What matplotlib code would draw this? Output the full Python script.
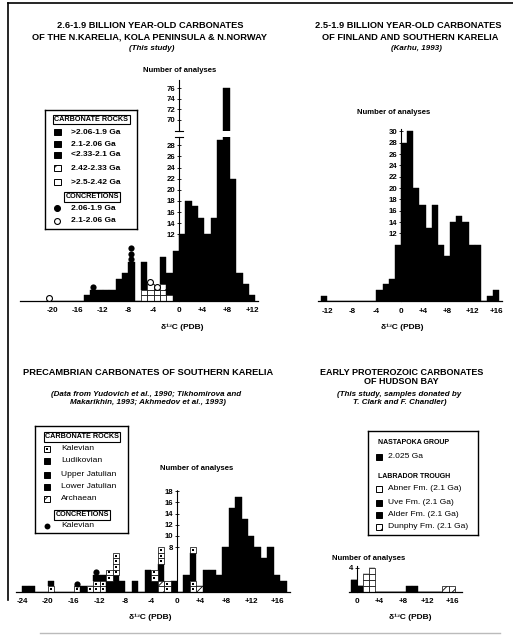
import matplotlib
matplotlib.use("Agg")
import matplotlib.pyplot as plt
from matplotlib.lines import Line2D
from matplotlib.patches import Rectangle
from matplotlib.transforms import ScaledTranslation
import numpy as np

plt.rcParams["font.family"] = ["Liberation Sans", "DejaVu Sans"]
plt.rcParams["font.weight"] = "bold"
plt.rcParams["hatch.linewidth"] = 0.6

# ---------------- data (bins are 1 per mil wide, given by left edge) ----------------
# panel 1 : N.Karelia, Kola Peninsula & N.Norway
p1_bins  = list(range(-21, 12))
p1_white = [0,0,0,0,0,0,0,0,0,0,0,0,0,0,0,2,3,2,2,1,0,0,0,0,0,0,0,0,0,0,0,0,0]
p1_hatch = [0,0,0,0,0,0,0,0,0,0,0,0,0,0,0,0,0,0,1,0,0,0,0,0,0,0,0,0,0,0,0,0,0]
p1_black = [0,0,0,0,0,0,1,2,2,2,2,4,5,7,0,5,0,0,5,4,9,12,18,17,15,12,15,29,76,22,5,3,1]
p1_dot   = [0,0,0,0,0,0,0,1,0,0,0,0,0,3,0,0,0,0,0,0,0,0,0,0,0,0,0,0,0,0,0,0,0]
p1_ring  = [1,0,0,0,0,0,0,0,0,0,0,0,0,0,0,0,1,1,0,0,0,0,0,0,0,0,0,0,0,0,0,0,0]

# panel 2 : Finland and southern Karelia (Karhu, 1993)
p2_bins  = list(range(-13, 16))
p2_black = [1,0,0,0,0,0,0,0,0,2,3,4,10,28,30,20,17,13,17,10,8,14,15,14,10,10,0,1,2]

# panel 3 : southern Karelia
p3_bins     = list(range(-24, 17))
p3_kal_low  = [0,0,0,0,1,0,0,0,1,0,1,2,2,0,0,0,0,0,0,0,0,0,0,0,0,0,2,0,0,0,0,0,0,0,0,0,0,0,0,0,0]
p3_arch     = [0,0,0,0,0,0,0,0,0,0,0,0,0,0,0,0,0,0,0,0,0,2,0,0,0,0,0,1,0,0,0,0,0,0,0,0,0,0,0,0,0]
p3_black    = [1,1,0,0,1,0,0,0,0,1,0,1,1,2,3,2,0,2,0,4,2,3,0,2,0,3,5,0,4,4,3,8,15,17,13,10,8,6,8,3,2]
p3_kal_high = [0,0,0,0,0,0,0,0,0,0,0,0,0,2,4,0,0,0,0,0,2,3,2,0,0,0,1,0,0,0,0,0,0,0,0,0,0,0,0,0,0]
p3_dot      = [0,0,0,0,0,0,0,0,1,0,0,1,0,0,0,0,0,0,0,0,0,0,0,0,0,0,0,0,0,0,0,0,0,0,0,0,0,0,0,0,0]

# panel 4 : Hudson Bay
p4_bins   = list(range(-1, 16))
p4_nast   = [2,1,0,0,0,0,0,0,0,0,0,0,0,0,0,0,0]
p4_abner  = [0,0,3,4,0,0,0,0,0,0,0,0,0,0,0,0,0]
p4_uvealder = [0,0,0,0,0,0,0,0,0,1,1,0,0,0,0,0,0]
p4_dunphy = [0,0,0,0,0,0,0,0,0,0,0,0,0,0,0,1,1]

xt_a = [-20, -16, -12, -8, -4, 0, 4, 8, 12]
xt_b = [-12, -8, -4, 0, 4, 8, 12, 16]
xt_c = [-24, -20, -16, -12, -8, -4, 0, 4, 8, 12, 16]
xt_d = [0, 4, 8, 12, 16]

W, H = 513, 637
fig = plt.figure(figsize=(W / 100, H / 100), dpi=100)


def box(x0, y0, x1, y1):
    return fig.add_axes([x0 / W, 1 - y1 / H, (x1 - x0) / W, (y1 - y0) / H])


def put(x, y, s, size=6.7, weight="bold", style="normal", ha="center", **kw):
    fig.text(x / W, 1 - y / H, s, fontsize=size, fontweight=weight,
             fontstyle=style, ha=ha, va="center", **kw)


def lab(v):
    return "+%d" % v if v > 0 else "%d" % v


def stack(ax, bins, layers):
    x = np.asarray(bins, float)
    base = np.zeros(len(x))
    for counts, kind in layers:
        c = np.asarray(counts, float)
        if kind == "black":
            ax.bar(x, c, width=1, bottom=base, align="edge", color="black",
                   edgecolor="black", lw=0.3)
        else:
            for k in range(int(c.max())):
                m = c > k
                xs, bs = x[m], base[m] + k
                if kind in ("white", "kal"):
                    ax.bar(xs, 1, width=1, bottom=bs, align="edge",
                           facecolor="white", edgecolor="black", lw=0.5)
                    if kind == "kal":
                        ax.scatter(xs + 0.5, bs + 0.5, s=1.5, marker="s",
                                   color="black", lw=0, zorder=3)
                elif kind == "hatch":
                    ax.bar(xs, 1, width=1, bottom=bs, align="edge",
                           facecolor="white", edgecolor="black", lw=0.5,
                           hatch="///")
                elif kind == "dot":
                    ax.scatter(xs + 0.5, bs + 0.5, s=20, color="black", lw=0,
                               zorder=3)
                elif kind == "ring":
                    ax.scatter(xs + 0.5, bs + 0.5, s=18, facecolor="white",
                               edgecolor="black", lw=0.8, zorder=3)
        base = base + c


def style(ax, xlim, ylim, yticks, xticks=None, dotted=False, bottom=True):
    ax.set_xlim(xlim)
    ax.set_ylim(ylim)
    ax.patch.set_alpha(0)
    for s in ("top", "right"):
        ax.spines[s].set_visible(False)
    ax.spines["left"].set_position(("data", 0))
    ax.spines["left"].set_linewidth(0.8)
    if dotted:
        ax.spines["left"].set_linestyle((0, (1.5, 1)))
    ax.spines["bottom"].set_linewidth(0.9)
    ax.spines["bottom"].set_visible(bottom)
    ax.set_yticks(yticks)
    ax.set_yticklabels([str(v) for v in yticks])
    ax.tick_params(axis="y", direction="inout", length=2.5, width=0.6, pad=1.5,
                   labelsize=5.6)
    if xticks is None:
        ax.set_xticks([])
    else:
        ax.set_xticks(xticks)
        ax.set_xticklabels([lab(v) for v in xticks])
        ax.tick_params(axis="x", length=0, pad=4.5, labelsize=5.8)
        for t in ax.get_xticklabels():
            if t.get_text().startswith("+"):
                t.set_transform(t.get_transform() +
                                ScaledTranslation(-2.5 / 100, 0, fig.dpi_scale_trans))


# ---------------- panel 1 (broken axis) ----------------
a1 = box(179 - 25 * 6.35, 137, 179 + 12.5 * 6.35, 301)
stack(a1, p1_bins, [(p1_white, "white"), (p1_hatch, "hatch"), (p1_black, "black"),
                    (p1_dot, "dot"), (p1_ring, "ring")])
style(a1, (-25, 12.5), (0, 29.5), list(range(12, 29, 2)), xt_a)
a1.plot([-0.7, 0.7], [29.5, 29.5], color="black", lw=0.8, clip_on=False)

a1u = box(179 - 25 * 6.35, 80.4, 179 + 12.5 * 6.35, 131)
stack(a1u, p1_bins, [(p1_white, "white"), (p1_hatch, "hatch"), (p1_black, "black")])
style(a1u, (-25, 12.5), (67.9, 77.5), [70, 72, 74, 76], bottom=False)
a1u.plot([-0.7, 0.7], [67.9, 67.9], color="black", lw=0.8, clip_on=False)

put(150, 26, "2.6-1.9 BILLION YEAR-OLD CARBONATES")
put(150, 37, "OF THE N.KARELIA, KOLA PENINSULA & N.NORWAY")
put(152, 49, "(This study)", size=5.8, style="italic")
put(180, 71, "Number of analyses", size=5.6)
put(182, 327, "δ¹³C (PDB)", size=6.0)

# legend 1
l1 = box(45, 110, 137, 229)
l1.set_xlim(45, 137)
l1.set_ylim(229, 110)
l1.set_xticks([])
l1.set_yticks([])
for s in l1.spines.values():
    s.set_linewidth(1.0)
l1.text(91.5, 119.5, "CARBONATE ROCKS", fontsize=5.2, ha="center", va="center",
        bbox=dict(boxstyle="square,pad=0.15", fc="white", ec="black", lw=0.8))
l1.text(92, 197, "CONCRETIONS", fontsize=5.2, ha="center", va="center",
        bbox=dict(boxstyle="square,pad=0.15", fc="white", ec="black", lw=0.8))
rows1 = [(132, ">2.06-1.9 Ga", "black"), (144, "2.1-2.06 Ga", "black"),
         (155, "<2.33-2.1 Ga", "black"), (168, "2.42-2.33 Ga", "hatch"),
         (182, ">2.5-2.42 Ga", "white"), (208, "2.06-1.9 Ga", "dot"),
         (221, "2.1-2.06 Ga", "ring")]
for y, t, k in rows1:
    if k in ("black", "white", "hatch"):
        l1.add_patch(Rectangle((54, y - 3), 6.5, 6, fc="black" if k == "black" else "white",
                               ec="black", lw=0.7, hatch="///" if k == "hatch" else None))
    else:
        l1.scatter([57], [y], s=18, facecolor="black" if k == "dot" else "white",
                   edgecolor="black", lw=0.8)
    l1.text(71, y, t, fontsize=6.0, va="center", ha="left")

# ---------------- panel 2 ----------------
a2 = box(401 - 13.5 * 6.14, 301.5 - 30.5 * 5.67, 401 + 16.5 * 6.14, 301.5)
stack(a2, p2_bins, [(p2_black, "black")])
style(a2, (-13.5, 16.5), (0, 30.5), list(range(12, 31, 2)), xt_b)
put(408, 26, "2.5-1.9 BILLION YEAR-OLD CARBONATES")
put(410, 37, "OF FINLAND AND SOUTHERN KARELIA")
put(416, 49, "(Karhu, 1993)", size=5.8, style="italic")
put(394, 113, "Number of analyses", size=5.6)
put(402, 327, "δ¹³C (PDB)", size=6.0)

# ---------------- panel 3 ----------------
a3 = box(177 - 25 * 6.45, 592 - 18.3 * 5.6, 177 + 17.5 * 6.45, 592)
stack(a3, p3_bins, [(p3_kal_low, "kal"), (p3_arch, "hatch"), (p3_black, "black"),
                    (p3_kal_high, "kal"), (p3_dot, "dot")])
style(a3, (-25, 17.5), (0, 18.3), list(range(8, 19, 2)), xt_c, dotted=True)
put(148, 373, "PRECAMBRIAN CARBONATES OF SOUTHERN KARELIA")
put(146, 394, "(Data from Yudovich et al., 1990; Tikhomirova and", size=5.8, style="italic")
put(148, 403, "Makarikhin, 1993; Akhmedov et al., 1993)", size=5.8, style="italic")
put(197, 469, "Number of analyses", size=5.6)
put(150, 617, "δ¹³C (PDB)", size=6.0)

l3 = box(35, 426, 128, 533)
l3.set_xlim(35, 128)
l3.set_ylim(533, 426)
l3.set_xticks([])
l3.set_yticks([])
for s in l3.spines.values():
    s.set_linewidth(1.0)
l3.text(82, 437, "CARBONATE ROCKS", fontsize=5.2, ha="center", va="center",
        bbox=dict(boxstyle="square,pad=0.15", fc="white", ec="black", lw=0.8))
l3.text(82, 515, "CONCRETIONS", fontsize=5.2, ha="center", va="center",
        bbox=dict(boxstyle="square,pad=0.15", fc="white", ec="black", lw=0.8))
rows3 = [(449, "Kalevian", "kal"), (461, "Ludikovian", "black"),
         (475, "Upper Jatulian", "black"), (487, "Lower Jatulian", "black"),
         (499, "Archaean", "hatch"), (526, "Kalevian", "dot")]
for y, t, k in rows3:
    if k == "dot":
        l3.scatter([47], [y], s=18, color="black", lw=0)
    else:
        l3.add_patch(Rectangle((44, y - 3), 6.5, 6, fc="black" if k == "black" else "white",
                               ec="black", lw=0.7, hatch="///" if k == "hatch" else None))
        if k == "kal":
            l3.scatter([47.25], [y], s=1.5, marker="s", color="black", lw=0)
    l3.text(61, y, t, fontsize=6.1, fontweight="normal", va="center", ha="left")

# ---------------- panel 4 ----------------
a4 = box(357 - 1.3 * 6.1, 592 - 4.3 * 6, 357 + 17.2 * 6.1, 592)
stack(a4, p4_bins, [(p4_nast, "black"), (p4_abner, "white"), (p4_uvealder, "black"),
                    (p4_dunphy, "hatch")])
style(a4, (-1.3, 17.2), (0, 4.3), [4], xt_d, dotted=True)
put(402, 373, "EARLY PROTEROZOIC CARBONATES", size=6.5)
put(401, 382, "OF HUDSON BAY", size=6.5)
put(399, 395, "(This study, samples donated by", size=5.8, style="italic")
put(400, 403, "T. Clark and F. Chandler)", size=5.8, style="italic")
put(369, 558, "Number of analyses", size=5.6)
put(410, 617, "δ¹³C (PDB)", size=6.0)

l4 = box(368, 431, 478, 535)
l4.set_xlim(368, 478)
l4.set_ylim(535, 431)
l4.set_xticks([])
l4.set_yticks([])
for s in l4.spines.values():
    s.set_linewidth(1.0)
l4.text(378, 443, "NASTAPOKA GROUP", fontsize=5.0, ha="left", va="center")
l4.text(378, 477, "LABRADOR TROUGH", fontsize=5.0, ha="left", va="center")
rows4 = [(457, "2.025 Ga", "black"), (489, "Abner Fm. (2.1 Ga)", "white"),
         (503, "Uve Fm. (2.1 Ga)", "black"), (515, "Alder Fm. (2.1 Ga)", "black"),
         (527, "Dunphy Fm. (2.1 Ga)", "hatch")]
for y, t, k in rows4:
    l4.add_patch(Rectangle((375.5, y - 3), 6.5, 6, fc="black" if k == "black" else "white",
                           ec="black", lw=0.7, hatch="///" if k == "hatch" else None))
    l4.text(388, y, t, fontsize=6.1, fontweight="normal", va="center", ha="left")

# scanned page frame
fig.add_artist(Line2D([8 / W, 8 / W], [1 - 3 / H, 1 - 600 / H], color="black", lw=1.2))
fig.add_artist(Line2D([8 / W, 1], [1 - 3 / H, 1 - 3 / H], color="black", lw=1.2))
fig.add_artist(Line2D([40 / W, 500 / W], [1 - 633 / H, 1 - 633 / H], color="#bbbbbb", lw=1.0))

fig.savefig("out.png", dpi=100)
